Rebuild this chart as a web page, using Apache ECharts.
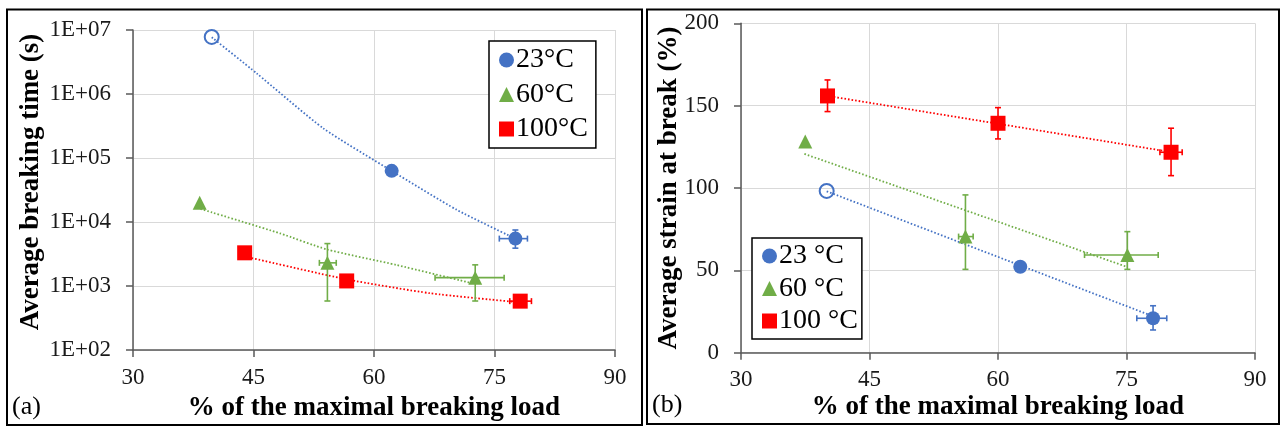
<!DOCTYPE html>
<html><head><meta charset="utf-8">
<script src="https://cdn.jsdelivr.net/npm/echarts@6/dist/echarts.min.js"></script>
<style>html,body{margin:0;padding:0;background:#fff}#c{width:1281px;height:427px}</style>
</head><body><div id="c"></div>
<script>
// ---------- tick labels ----------
const xTicks = [30, 45, 60, 75, 90];
const yTickLabelsA = ['1E+02', '1E+03', '1E+04', '1E+05', '1E+06', '1E+07'];
const yTicksB = [0, 50, 100, 150, 200];

// ---------- legend names ----------
const namesA = ['23°C', '60°C', '100°C'];
const namesB = ['23 °C', '60 °C', '100 °C'];

// ---------- panel (a): average breaking time (s) ----------
const a23 = [[39.8, 7.8e6], [62.2, 6.3e4], [77.6, 5.5e3]];
const a60 = [[38.3, 2.0e4], [54.2, 2.3e3], [72.6, 1.35e3]];
const a100 = [[43.9, 3.3e3], [56.6, 1.2e3], [78.2, 580]];
// error bars: [x, y, xLow, xHigh, yLow, yHigh]
const a23Err = [[77.6, 5.5e3, 75.6, 79.1, 3.9e3, 7.5e3]];
const a60Err = [[54.2, 2.3e3, 53.2, 55.3, 583, 4.6e3], [72.6, 1.35e3, 67.6, 76.2, 583, 2.14e3]];
const a100Err = [[78.2, 580, 76.9, 79.6, 580, 580]];
// trend lines
const a23Trend = [[39.8, 7.7e6], [45.4, 2.1e6], [53.7, 2.9e5], [62.2, 6.3e4], [70.3, 1.55e4], [77.6, 5.5e3]];
const a60Trend = [[38.4, 1.6e4], [48.3, 6.65e3], [54.1, 3.74e3], [62.8, 2.13e3], [72.0, 1.12e3]];
const a100Trend = [[43.9, 2.9e3], [56.6, 1.27e3], [67.0, 770], [77.5, 565]];

// ---------- panel (b): average strain at break (%) ----------
const b23 = [[40.0, 98.2], [62.6, 52.2], [78.1, 20.9]];
const b60 = [[37.5, 128.2], [56.2, 70.5], [75.1, 59.3]];
const b100 = [[40.1, 155.9], [60.0, 139.3], [80.2, 121.7]];
const b23Err = [[78.1, 20.9, 76.2, 79.7, 13.8, 28.5]];
const b60Err = [[56.2, 70.5, 55.4, 57.1, 50.6, 95.8], [75.1, 59.3, 70.1, 78.7, 50.6, 73.5]];
const b100Err = [[40.1, 155.9, 40.1, 40.1, 146.4, 165.6], [60.0, 139.3, 60.0, 60.0, 129.8, 148.8], [80.2, 121.7, 78.9, 81.5, 107.5, 136.3]];
const b23Trend = [[40.0, 98.0], [77.7, 22.9]];
const b60Trend = [[37.4, 120.7], [75.0, 52.2]];
const b100Trend = [[40.0, 156.0], [80.0, 122.0]];

// ---------- styling ----------
const BLUE = '#4472C4', GREEN = '#70AD47', RED = '#FF0000';
const FONT = 'Liberation Serif';
const AXIS = '#595959', GRID = '#d9d9d9';

function errRender(color) {
  return function (params, api) {
    const x = api.value(0), y = api.value(1);
    const xl = api.value(2), xh = api.value(3), yl = api.value(4), yh = api.value(5);
    const st = { stroke: color, lineWidth: 1.6 };
    const ch = [];
    const cap = 3;
    if (yl !== yh) {
      const p1 = api.coord([x, yl]), p2 = api.coord([x, yh]);
      ch.push({ type: 'line', shape: { x1: p1[0], y1: p1[1], x2: p2[0], y2: p2[1] }, style: st });
      ch.push({ type: 'line', shape: { x1: p1[0] - cap, y1: p1[1], x2: p1[0] + cap, y2: p1[1] }, style: st });
      ch.push({ type: 'line', shape: { x1: p2[0] - cap, y1: p2[1], x2: p2[0] + cap, y2: p2[1] }, style: st });
    }
    if (xl !== xh) {
      const p1 = api.coord([xl, y]), p2 = api.coord([xh, y]);
      ch.push({ type: 'line', shape: { x1: p1[0], y1: p1[1], x2: p2[0], y2: p2[1] }, style: st });
      ch.push({ type: 'line', shape: { x1: p1[0], y1: p1[1] - cap, x2: p1[0], y2: p1[1] + cap }, style: st });
      ch.push({ type: 'line', shape: { x1: p2[0], y1: p2[1] - cap, x2: p2[0], y2: p2[1] + cap }, style: st });
    }
    return { type: 'group', children: ch };
  };
}

function firstOpen(data, color) {
  return data.map((d, i) => i === 0
    ? { value: d, itemStyle: { color: 'rgba(255,255,255,0)', borderColor: color, borderWidth: 2 }, symbolSize: 14 }
    : d);
}

function panelSeries(idx, names, sets, smooth) {
  const out = [];
  const colors = [BLUE, GREEN, RED];
  const symbols = ['circle', 'triangle', 'rect'];
  sets.forEach((s, i) => {
    out.push({
      type: 'line', xAxisIndex: idx, yAxisIndex: idx, data: s.trend, smooth: smooth ? 0.2 : false,
      symbol: 'none', silent: true, z: 1,
      lineStyle: { color: colors[i], width: 1.8, type: [1.6, 2] }
    });
    out.push({
      type: 'custom', xAxisIndex: idx, yAxisIndex: idx, data: s.err, z: 2, silent: true,
      renderItem: errRender(colors[i]), itemStyle: { color: colors[i] }
    });
    out.push({
      name: names[i], type: 'scatter', xAxisIndex: idx, yAxisIndex: idx,
      data: i === 0 ? firstOpen(s.pts, colors[i]) : s.pts,
      symbol: symbols[i], symbolSize: i === 2 ? 15 : 14, z: 3,
      itemStyle: { color: colors[i], opacity: 1 }
    });
  });
  return out;
}

const series = [].concat(
  panelSeries(0, namesA, [
    { pts: a23, err: a23Err, trend: a23Trend },
    { pts: a60, err: a60Err, trend: a60Trend },
    { pts: a100, err: a100Err, trend: a100Trend }
  ], true),
  panelSeries(1, namesB, [
    { pts: b23, err: b23Err, trend: b23Trend },
    { pts: b60, err: b60Err, trend: b60Trend },
    { pts: b100, err: b100Err, trend: b100Trend }
  ], false)
);

function xAxisCfg(gridIndex, gap) {
  return {
    type: 'value', gridIndex, min: xTicks[0], max: xTicks[xTicks.length - 1],
    interval: xTicks[1] - xTicks[0],
    name: '% of the maximal breaking load', nameLocation: 'middle', nameGap: gap,
    nameMoveOverlap: false,
    nameTextStyle: { fontFamily: FONT, fontSize: 27, fontWeight: 'bold', color: '#000' },
    axisLine: { show: true, lineStyle: { color: AXIS, width: 1.5 } },
    axisTick: { show: true, length: 7, inside: false, lineStyle: { color: AXIS, width: 1.5 } },
    axisLabel: { fontFamily: FONT, fontSize: 23, color: '#1a1a1a', margin: 16 },
    splitLine: { show: true, lineStyle: { color: GRID, width: 1 } }
  };
}

const legendBase = {
  orient: 'vertical', itemWidth: 15, itemHeight: 15, borderColor: '#000', borderWidth: 1.5,
  backgroundColor: '#fff', selectedMode: false,
  textStyle: { fontFamily: FONT, fontSize: 28, color: '#000', padding: [0, 0, 0, -3] }
};

const option = {
  animation: false,
  backgroundColor: '#fff',
  grid: [
    { left: 133, top: 30, width: 482, height: 320 },
    { left: 741, top: 23.3, width: 514, height: 329.4 }
  ],
  xAxis: [xAxisCfg(0, 45), xAxisCfg(1, 41)],
  yAxis: [
    {
      type: 'log', logBase: 10, gridIndex: 0, min: 100, max: 1e7,
      name: 'Average breaking time (s)', nameLocation: 'middle', nameGap: 88,
      nameMoveOverlap: false,
      nameTextStyle: { fontFamily: FONT, fontSize: 27, fontWeight: 'bold', color: '#000', padding: [0, 0, 0, 16] },
      axisLine: { show: true, lineStyle: { color: AXIS, width: 1.5 } },
      axisTick: { show: true, length: 7, lineStyle: { color: AXIS, width: 1.5 } },
      axisLabel: {
        fontFamily: FONT, fontSize: 23, color: '#1a1a1a', margin: 22,
        formatter: v => yTickLabelsA[Math.round(Math.log10(v)) - 2]
      },
      splitLine: { show: true, lineStyle: { color: GRID, width: 1 } }
    },
    {
      type: 'value', gridIndex: 1, min: yTicksB[0], max: yTicksB[yTicksB.length - 1],
      interval: yTicksB[1] - yTicksB[0],
      name: 'Average strain at break (%)', nameLocation: 'middle', nameGap: 58,
      nameMoveOverlap: false,
      nameTextStyle: { fontFamily: FONT, fontSize: 27, fontWeight: 'bold', color: '#000' },
      axisLine: { show: true, lineStyle: { color: AXIS, width: 1.5 } },
      axisTick: { show: true, length: 7, lineStyle: { color: AXIS, width: 1.5 } },
      axisLabel: { fontFamily: FONT, fontSize: 23, color: '#1a1a1a', margin: 22 },
      splitLine: { show: true, lineStyle: { color: GRID, width: 1 } }
    }
  ],
  legend: [
    Object.assign({}, legendBase, { data: namesA, left: 489, top: 41, padding: [5, 8, 5, 10], itemGap: 6.5 }),
    Object.assign({}, legendBase, { data: namesB, left: 752, top: 238, padding: [4, 4, 4, 10], itemGap: 4.5 })
  ],
  graphic: [
    { type: 'rect', shape: { x: 7, y: 9.5, width: 635, height: 415.5 }, style: { fill: 'none', stroke: '#000', lineWidth: 2 }, silent: true },
    { type: 'rect', shape: { x: 647, y: 9.5, width: 632, height: 414.5 }, style: { fill: 'none', stroke: '#000', lineWidth: 2 }, silent: true },
    { type: 'text', left: 12, top: 394, style: { text: '(a)', font: '26px "Liberation Serif"', fill: '#000' } },
    { type: 'text', left: 652, top: 392, style: { text: '(b)', font: '26px "Liberation Serif"', fill: '#000' } },
    { type: 'text', x: 38, y: 1, style: { text: 'Fig', font: '26px "Liberation Serif"', fill: '#000', textVerticalAlign: 'bottom' } }
  ],
  series
};

const chart = echarts.init(document.getElementById('c'), null, { renderer: 'canvas' });
chart.setOption(option);
</script>
</body></html>
